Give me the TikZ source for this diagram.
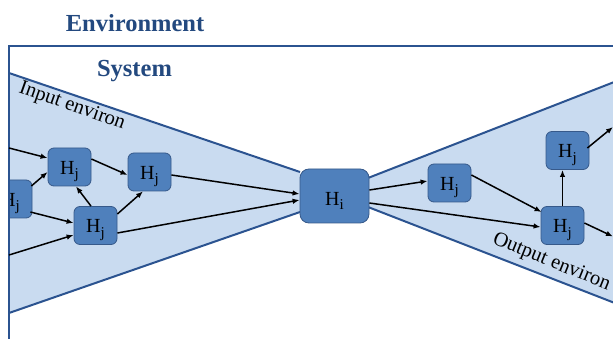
\documentclass[tikz,border=0pt]{standalone}
\usepackage{fontspec}
\setmainfont{Liberation Serif}
\usetikzlibrary{arrows.meta,calc}
\definecolor{framec}{HTML}{2B5390}
\definecolor{headc}{HTML}{23497F}
\definecolor{lightc}{HTML}{C9DBF0}
\definecolor{nodefill}{HTML}{4F80BC}
\definecolor{nodeline}{HTML}{36598A}
\newcommand\hsub[1]{H\raisebox{-4.5pt}{\fontsize{15}{15}\selectfont #1}}
\tikzset{
  hbox/.style={draw=nodeline, fill=nodefill, line width=0.8pt, rounded corners=6pt,
    minimum width=43pt, minimum height=38pt, inner sep=0pt,
    font=\fontsize{20}{20}\selectfont, text height=15pt, text depth=0pt},
  hbig/.style={hbox, minimum width=69pt, minimum height=54pt, rounded corners=9pt,
    text height=19pt},
  arr/.style={line width=1.5pt, -{Latex[length=7pt,width=5.5pt]}},
  border/.style={draw=framec, line width=2pt},
  heading/.style={text=headc, font=\bfseries\fontsize{24.5}{28}\selectfont, anchor=base},
  envlabel/.style={font=\fontsize{20.5}{20.5}\selectfont, inner sep=0pt}
}
\begin{document}
\begin{tikzpicture}[x=1pt,y=-1pt]
\useasboundingbox (0,0) rectangle (613,339);
\clip (0,0) rectangle (613,339);
\fill[white] (0,0) rectangle (613,339);
% trapezoids
\fill[lightc] (9,73) -- (300,172) -- (300,212) -- (9,313) -- cycle;
\fill[lightc] (368,178) -- (625,77.8) -- (625,307) -- (368,207) -- cycle;
\draw[border] (9,73) -- (300,172);
\draw[border] (9,313) -- (300,212);
\draw[border] (368,178) -- (625,77.8);
\draw[border] (368,207) -- (625,307);
% headings
\node[heading] (env) at (135,32) {Environment};
\node[heading] (sys) at (134.5,77) {System};
\node[envlabel, rotate=-19.5] (inl) at (72,106.5) {Input environ};
\node[envlabel, rotate=-22] (outl) at (551.5,262.5) {Output environ};
% nodes
\begin{scope}
\clip (9,0) rectangle (613,339);
\node[hbox] (hc) at (10.5,199) {\hsub{j}};
\end{scope}
\node[hbox] (ha) at (69.5,167) {\hsub{j}};
\node[hbox] (hb) at (149.5,172) {\hsub{j}};
\node[hbox] (hd) at (95.5,225.5) {\hsub{j}};
\node[hbig] (hi) at (334.5,196) {\hsub{i}};
\node[hbox] (oa) at (449.5,183) {\hsub{j}};
\node[hbox] (ob) at (562.5,225.5) {\hsub{j}};
\node[hbox] (oc) at (567.5,150.5) {\hsub{j}};
% free ends
\coordinate (in1) at (9,148);
\coordinate (in2) at (9,255);
\coordinate (out1) at (613,127);
\coordinate (out2) at (613,236.5);
% frame
\draw[framec, line width=2.4pt] (9,339) -- (9,46) -- (613,46);
% arrows
\draw[arr] (in1) -- ($(ha.west)+(0,-9)$);
\draw[arr] ($(hc.east)+(-1,-13)$) -- ($(ha.west)+(0,5)$);
\draw[arr] ($(hc.east)+(-2,13)$) -- ($(hd.west)+(0,-2.5)$);
\draw[arr] (in2) -- ($(hd.west)+(0,9.5)$);
\draw[arr] ($(hd.north)+(-4.5,0)$) -- ($(ha.south)+(6.5,0)$);
\draw[arr] ($(ha.east)+(0,-8)$) -- ($(hb.west)+(0,3)$);
\draw[arr] ($(hd.east)+(0,-11.5)$) -- ($(hb.south)+(-6.5,0)$);
\draw[arr] ($(hb.east)+(0,3)$) -- ($(hi.west)+(0,-2)$);
\draw[arr] ($(hd.east)+(0,7.5)$) -- ($(hi.west)+(0,4)$);
\draw[arr] ($(hi.east)+(0,-6)$) -- ($(oa.west)+(0,-2)$);
\draw[arr] ($(hi.east)+(0,7)$) -- ($(ob.west)+(0,1.5)$);
\draw[arr] ($(oa.east)+(0,-8)$) -- ($(ob.west)+(1,-13.5)$);
\draw[arr] (ob.north) -- ($(oc.south)+(-5,0)$);
\draw[arr] ($(oc.east)+(-2,-2.5)$) -- (out1);
\draw[arr] ($(ob.east)+(0,-2.5)$) -- (out2);
\end{tikzpicture}
\end{document}
